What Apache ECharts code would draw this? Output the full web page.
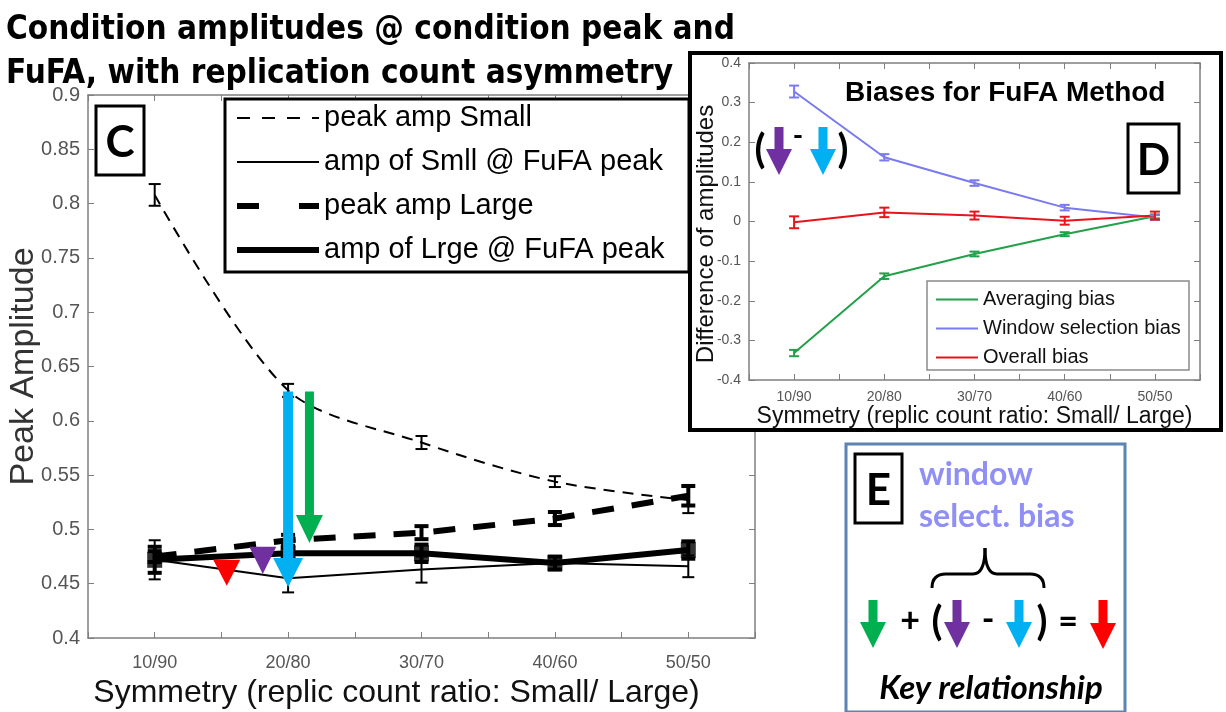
<!DOCTYPE html>
<html>
<head>
<meta charset="utf-8">
<script src="https://cdn.jsdelivr.net/npm/echarts@6/dist/echarts.min.js"></script>
<style>
  html, body { margin: 0; padding: 0; background: #fff; }
  #chart { width: 1226px; height: 712px; }
</style>
</head>
<body>
<div id="chart"></div>
<script>
// x positions and tick labels (shared by both panels)
const xPos = [10, 20, 30, 40, 50];
const xLabels = ['10/90', '20/80', '30/70', '40/60', '50/50'];

// panel C values
const smallPeak = [0.808, 0.628, 0.580, 0.544, 0.527];
const smallPeakErr = [0.010, 0.006, 0.006, 0.005, 0.012];
const smallFufa = [0.472, 0.455, 0.463, 0.469, 0.466];
const smallFufaErr = [0.018, 0.013, 0.012, 0.006, 0.010];
const largePeak = [0.475, 0.490, 0.497, 0.510, 0.531];
const largePeakErr = [0.005, 0.005, 0.006, 0.006, 0.009];
const largeFufa = [0.472, 0.478, 0.478, 0.469, 0.481];
const largeFufaErr = [0.012, 0.005, 0.008, 0.006, 0.008];

// arrows drawn over panel C (x, top, tip in data units)
const arrowX = [20, 21.6, 18.1, 15.4];
const arrowTop = [0.627, 0.627, 0.484, 0.472];
const arrowTip = [0.447, 0.4875, 0.459, 0.448];

// panel D values
const winBias = [0.328, 0.162, 0.097, 0.035, 0.010];
const winBiasErr = [0.015, 0.008, 0.007, 0.007, 0.006];
const overBias = [-0.002, 0.023, 0.015, 0.002, 0.015];
const overBiasErr = [0.015, 0.012, 0.010, 0.010, 0.010];
const avgBias = [-0.332, -0.138, -0.082, -0.032, 0.013];
const avgBiasErr = [0.008, 0.007, 0.006, 0.005, 0.005];

const ARROW_STYLE = [
    { color: '#00b0f0', shaft: 10, head: 30, headLen: 29 },
    { color: '#00b050', shaft: 9, head: 27, headLen: 28 },
    { color: '#7030a0', shaft: 0, head: 27, headLen: 0 },
    { color: '#ff0000', shaft: 0, head: 27, headLen: 0 }
];

const ARIAL = '"Liberation Sans", Arial, sans-serif';
const CALIBRI = 'Lato, "Open Sans", sans-serif';

const pairs = (vals) => xPos.map((x, i) => [x, vals[i]]);
const errData = (vals, errs) => xPos.map((x, i) => [x, vals[i] - errs[i], vals[i] + errs[i]]);

const arrowPts = (cx, top, tip, shaft, head, headLen) => {
    const hl = headLen || (tip - top);
    const base = tip - hl;
    if (!shaft) return [[cx - head / 2, top], [cx + head / 2, top], [cx, tip]];
    return [
        [cx - shaft / 2, top], [cx + shaft / 2, top], [cx + shaft / 2, base],
        [cx + head / 2, base], [cx, tip], [cx - head / 2, base], [cx - shaft / 2, base]
    ];
};

const makeErr = (width, cap) => (params, api) => {
    const x = api.value(0);
    const lo = api.coord([x, api.value(1)]);
    const hi = api.coord([x, api.value(2)]);
    const style = { stroke: api.visual('color'), lineWidth: width };
    return {
        type: 'group',
        children: [
            { type: 'line', shape: { x1: lo[0], y1: lo[1], x2: hi[0], y2: hi[1] }, style },
            { type: 'line', shape: { x1: lo[0] - cap, y1: lo[1], x2: lo[0] + cap, y2: lo[1] }, style },
            { type: 'line', shape: { x1: hi[0] - cap, y1: hi[1], x2: hi[0] + cap, y2: hi[1] }, style }
        ]
    };
};

const renderArrow = (params, api) => {
    const st = ARROW_STYLE[params.dataIndex];
    const a = api.coord([api.value(0), api.value(1)]);
    const b = api.coord([api.value(0), api.value(2)]);
    return {
        type: 'polygon',
        shape: { points: arrowPts(a[0], a[1], b[1], st.shaft, st.head, st.headLen) },
        style: { fill: st.color }
    };
};

const xAxisBase = (grid, pos, labels, fontSize, margin, z) => ({
    type: 'value', gridIndex: grid, position: pos, min: 5, max: 55, interval: 5, z,
    axisLine: { onZero: false, lineStyle: { color: '#7f7f7f', width: 1.5 } },
    axisTick: { inside: true, length: 6, lineStyle: { color: '#7f7f7f' } },
    splitLine: { show: false },
    axisLabel: {
        show: labels, color: '#555', fontSize, fontFamily: ARIAL, margin,
        formatter: (v) => {
            const i = xPos.indexOf(v);
            return i >= 0 ? xLabels[i] : '';
        }
    }
});

const yAxisBase = (grid, pos, min, max, step, labels, fontSize, z) => ({
    type: 'value', gridIndex: grid, position: pos, min, max, interval: step, z,
    axisLine: { show: true, onZero: false, lineStyle: { color: '#7f7f7f', width: 1.5 } },
    axisTick: { show: true, inside: true, length: 6, lineStyle: { color: '#7f7f7f' } },
    splitLine: { show: false },
    axisLabel: { show: labels, color: '#555', fontSize, fontFamily: ARIAL, margin: 8 }
});

// curly brace above the bracketed pair in panel E
const braceStyle = { fill: null, stroke: '#000', lineWidth: 3 };
const brace = [
    { type: 'bezierCurve', z: 51, shape: { x1: 932, y1: 588, cpx1: 932, cpy1: 574, x2: 946, y2: 574 }, style: braceStyle },
    { type: 'line', z: 51, shape: { x1: 946, y1: 574, x2: 973, y2: 574 }, style: braceStyle },
    { type: 'bezierCurve', z: 51, shape: { x1: 973, y1: 574, cpx1: 985, cpy1: 574, x2: 985, y2: 548 }, style: braceStyle },
    { type: 'bezierCurve', z: 51, shape: { x1: 985, y1: 548, cpx1: 985, cpy1: 574, x2: 997, y2: 574 }, style: braceStyle },
    { type: 'line', z: 51, shape: { x1: 997, y1: 574, x2: 1030, y2: 574 }, style: braceStyle },
    { type: 'bezierCurve', z: 51, shape: { x1: 1030, y1: 574, cpx1: 1044, cpy1: 574, x2: 1044, y2: 588 }, style: braceStyle }
];

const letterBox = (x, y, w, h, letter, z) => [
    { type: 'rect', z, shape: { x, y, width: w, height: h }, style: { fill: '#fff', stroke: '#000', lineWidth: 3 } },
    { type: 'text', z: z + 1, x: x + w / 2, y: y + h / 2 + 2,
      style: { text: letter, font: 'bold 44px ' + CALIBRI, fill: '#000', align: 'center', verticalAlign: 'middle' } }
];

const sym = (text, x, y, size, z) => ({
    type: 'text', z, x, y,
    style: { text, font: 'bold ' + size + 'px ' + CALIBRI, fill: '#000', align: 'center', verticalAlign: 'middle' }
});

const arrowEl = (cx, top, tip, color, z) => ({
    type: 'polygon', z,
    shape: { points: arrowPts(cx, top, tip, 9, 26, 26) },
    style: { fill: color }
});

const chart = echarts.init(document.getElementById('chart'));

const option = {
    animation: false,
    backgroundColor: '#fff',
    grid: [
        { left: 88, top: 95, width: 667, height: 543, outerBoundsMode: 'none', containLabel: false },
        { left: 749, top: 63, width: 451, height: 317, z: 52, outerBoundsMode: 'none', containLabel: false }
    ],
    xAxis: [
        Object.assign(xAxisBase(0, 'bottom', true, 18, 16, 0), {
            name: 'Symmetry (replic count ratio: Small/ Large)', nameLocation: 'middle', nameGap: 39,
            nameMoveOverlap: false,
            nameTextStyle: { fontSize: 32, color: '#111', fontFamily: ARIAL, padding: [0, 50, 0, 0] }
        }),
        xAxisBase(0, 'top', false, 18, 16, 0),
        Object.assign(xAxisBase(1, 'bottom', true, 14, 10, 55), {
            name: 'Symmetry (replic count ratio: Small/ Large)', nameLocation: 'middle', nameGap: 25,
            nameMoveOverlap: false,
            nameTextStyle: { fontSize: 23, color: '#111', fontFamily: ARIAL }
        }),
        xAxisBase(1, 'top', false, 14, 10, 55)
    ],
    yAxis: [
        Object.assign(yAxisBase(0, 'left', 0.4, 0.9, 0.05, true, 20, 0), {
            name: 'Peak Amplitude', nameLocation: 'middle', nameGap: 47, nameMoveOverlap: false,
            nameTextStyle: { fontSize: 34, color: '#333', fontFamily: ARIAL }
        }),
        yAxisBase(0, 'right', 0.4, 0.9, 0.05, false, 20, 0),
        Object.assign(yAxisBase(1, 'left', -0.4, 0.4, 0.1, true, 14, 55), {
            name: 'Difference of amplitudes', nameLocation: 'middle', nameGap: 31, nameMoveOverlap: false,
            nameTextStyle: { fontSize: 24, color: '#111', fontFamily: ARIAL, padding: [0, 25, 0, 0] }
        }),
        yAxisBase(1, 'right', -0.4, 0.4, 0.1, false, 14, 55)
    ],
    legend: [
        {
            data: [
                { name: 'peak amp Small', lineStyle: { width: 2, type: [13, 12] } },
                { name: 'amp of Smll @ FuFA peak', lineStyle: { width: 2 } },
                { name: 'peak amp Large', lineStyle: { width: 6, type: [22, 40] } },
                { name: 'amp of Lrge @ FuFA peak', lineStyle: { width: 6 } }
            ],
            orient: 'vertical', left: 234, top: 103, itemGap: 14, itemWidth: 82, itemHeight: 14,
            padding: 0, z: 6, selectedMode: false, itemStyle: { opacity: 0 },
            textStyle: { fontSize: 29, lineHeight: 30, color: '#000', fontFamily: ARIAL }
        },
        {
            data: ['Averaging bias', 'Window selection bias', 'Overall bias'].map((name) => ({ name, lineStyle: { width: 2 } })),
            orient: 'vertical', left: 935, top: 289, itemGap: 8, itemWidth: 42, itemHeight: 12,
            padding: 0, z: 60, selectedMode: false, itemStyle: { opacity: 0 },
            textStyle: { fontSize: 20, lineHeight: 21, color: '#111', fontFamily: ARIAL }
        }
    ],
    graphic: [
        { type: 'text', z: 1, x: 6, y: 8,
          style: { text: 'Condition amplitudes @ condition peak and\nFuFA, with replication count asymmetry',
                   font: 'bold 33px "Liberation Sans Narrow", "DejaVu Sans Condensed", sans-serif',
                   lineHeight: 44, fill: '#000' } },
        { type: 'rect', z: 5, shape: { x: 225, y: 99, width: 464, height: 173 },
          style: { fill: '#fff', stroke: '#000', lineWidth: 3 } },
        ...letterBox(96, 106, 48, 69, 'C', 7),
        // panel D frame
        { type: 'rect', z: 50, shape: { x: 690, y: 53, width: 531, height: 377 },
          style: { fill: '#fff', stroke: '#000', lineWidth: 4 } },
        { type: 'text', z: 58, x: 845, y: 93,
          style: { text: 'Biases for FuFA Method', font: 'bold 28px ' + ARIAL, fill: '#000', verticalAlign: 'middle' } },
        ...letterBox(1128, 124, 51, 69, 'D', 58),
        sym('(', 760, 150, 40, 58),
        arrowEl(779, 127, 175, '#7030a0', 58),
        sym('-', 798, 136, 28, 58),
        arrowEl(823, 127, 175, '#00b0f0', 58),
        sym(')', 843, 150, 40, 58),
        { type: 'rect', z: 59, shape: { x: 927, y: 281, width: 262, height: 89 },
          style: { fill: '#fff', stroke: '#8a8a8a', lineWidth: 1.5 } },
        // panel E
        { type: 'rect', z: 50, shape: { x: 846, y: 444, width: 279, height: 268 },
          style: { fill: '#fff', stroke: '#5b84b1', lineWidth: 3 } },
        ...letterBox(855, 454, 47, 69, 'E', 51),
        { type: 'text', z: 51, x: 919, y: 475,
          style: { text: 'window', font: 'bold 32px ' + CALIBRI, fill: '#8f8ff5', verticalAlign: 'middle' } },
        { type: 'text', z: 51, x: 919, y: 517,
          style: { text: 'select. bias', font: 'bold 32px ' + CALIBRI, fill: '#8f8ff5', verticalAlign: 'middle' } },
        ...brace,
        arrowEl(873, 600, 648, '#00b050', 51),
        sym('+', 910, 621, 34, 51),
        sym('(', 937, 622, 40, 51),
        arrowEl(957, 600, 648, '#7030a0', 51),
        sym('-', 988, 620, 34, 51),
        arrowEl(1019, 600, 648, '#00b0f0', 51),
        sym(')', 1042, 622, 40, 51),
        sym('=', 1068, 622, 34, 51),
        arrowEl(1103, 600, 649, '#ff0000', 51),
        { type: 'text', z: 51, x: 991, y: 688,
          style: { text: 'Key relationship', font: 'italic bold 33px ' + CALIBRI, fill: '#000', align: 'center', verticalAlign: 'middle' } }
    ],
    series: [
        // panel C
        { name: 'peak amp Small', type: 'line', xAxisIndex: 0, yAxisIndex: 0, data: pairs(smallPeak),
          symbol: 'none', smooth: 0.3, lineStyle: { color: '#000', width: 2, type: [11, 8] }, itemStyle: { color: '#000' } },
        { name: 'amp of Smll @ FuFA peak', type: 'line', xAxisIndex: 0, yAxisIndex: 0, data: pairs(smallFufa),
          symbol: 'none', lineStyle: { color: '#000', width: 2 }, itemStyle: { color: '#000' } },
        { name: 'peak amp Large', type: 'line', xAxisIndex: 0, yAxisIndex: 0, data: pairs(largePeak),
          symbol: 'none', lineStyle: { color: '#000', width: 6, type: [22, 18] }, itemStyle: { color: '#000' } },
        { name: 'amp of Lrge @ FuFA peak', type: 'line', xAxisIndex: 0, yAxisIndex: 0, data: pairs(largeFufa),
          symbol: 'none', lineStyle: { color: '#000', width: 6 }, itemStyle: { color: '#000' } },
        { type: 'scatter', xAxisIndex: 0, yAxisIndex: 0, data: pairs(largeFufa), symbol: 'rect',
          symbolSize: [15, 16], itemStyle: { color: '#000' }, z: 3 },
        { type: 'custom', xAxisIndex: 0, yAxisIndex: 0, data: errData(smallPeak, smallPeakErr),
          renderItem: makeErr(2, 6), itemStyle: { color: '#000' }, z: 3 },
        { type: 'custom', xAxisIndex: 0, yAxisIndex: 0, data: errData(smallFufa, smallFufaErr),
          renderItem: makeErr(2, 6), itemStyle: { color: '#000' }, z: 3 },
        { type: 'custom', xAxisIndex: 0, yAxisIndex: 0, data: errData(largePeak, largePeakErr),
          renderItem: makeErr(4, 7), itemStyle: { color: '#000' }, z: 3 },
        { type: 'custom', xAxisIndex: 0, yAxisIndex: 0, data: errData(largeFufa, largeFufaErr),
          renderItem: makeErr(4, 7), itemStyle: { color: '#000' }, z: 3 },
        { type: 'custom', xAxisIndex: 0, yAxisIndex: 0,
          data: arrowX.map((x, i) => [x, arrowTop[i], arrowTip[i]]),
          renderItem: renderArrow, z: 10 },
        // panel D
        { name: 'Averaging bias', type: 'line', xAxisIndex: 2, yAxisIndex: 2, data: pairs(avgBias), z: 56,
          symbol: 'none', lineStyle: { color: '#23a04a', width: 2 }, itemStyle: { color: '#23a04a' } },
        { name: 'Window selection bias', type: 'line', xAxisIndex: 2, yAxisIndex: 2, data: pairs(winBias), z: 56,
          symbol: 'none', lineStyle: { color: '#7a7af0', width: 2 }, itemStyle: { color: '#7a7af0' } },
        { name: 'Overall bias', type: 'line', xAxisIndex: 2, yAxisIndex: 2, data: pairs(overBias), z: 56,
          symbol: 'none', lineStyle: { color: '#e8141c', width: 2 }, itemStyle: { color: '#e8141c' } },
        { type: 'custom', xAxisIndex: 2, yAxisIndex: 2, data: errData(avgBias, avgBiasErr), z: 57,
          renderItem: makeErr(2, 5), itemStyle: { color: '#23a04a' } },
        { type: 'custom', xAxisIndex: 2, yAxisIndex: 2, data: errData(winBias, winBiasErr), z: 57,
          renderItem: makeErr(2, 5), itemStyle: { color: '#7a7af0' } },
        { type: 'custom', xAxisIndex: 2, yAxisIndex: 2, data: errData(overBias, overBiasErr), z: 57,
          renderItem: makeErr(2, 5), itemStyle: { color: '#e8141c' } }
    ]
};

chart.setOption(option);
</script>
</body>
</html>
